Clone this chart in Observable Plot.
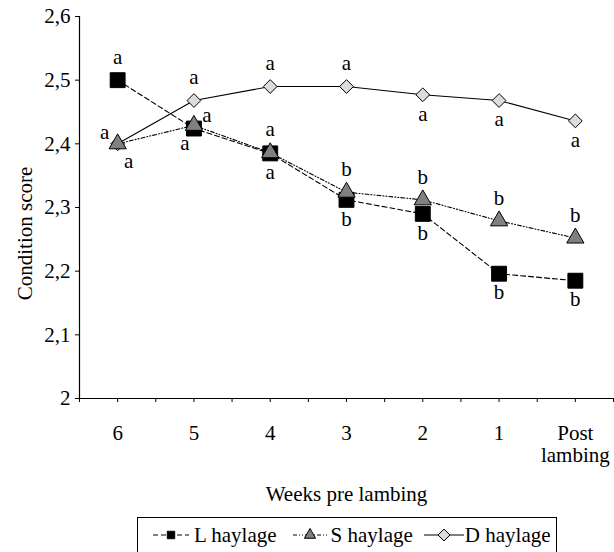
<!DOCTYPE html>
<html><head><meta charset="utf-8">
<script src="https://cdn.jsdelivr.net/npm/d3@7"></script>
<script src="https://cdn.jsdelivr.net/npm/@observablehq/plot@0.6"></script>
<style>
body{margin:0;background:#fff;font-family:"Liberation Serif",serif;overflow:hidden;}
#chart svg{display:block;}
#legend{position:absolute;left:137px;top:517px;width:420px;height:42px;border:1px solid #000;box-sizing:border-box;
  display:flex;align-items:center;padding-left:14px;padding-bottom:6px;font-size:21px;font-family:"Liberation Serif",serif;color:#000;white-space:nowrap;}
#legend .item{display:flex;align-items:center;}
#legend svg{display:block;}
</style></head><body>
<div id="chart"></div>
<div id="legend"></div>
<script>
// ---- data ----
const weeks = ["6", "5", "4", "3", "2", "1", "Post\nlambing"];
const lHaylage = [2.500, 2.424, 2.385, 2.312, 2.290, 2.196, 2.185];
const sHaylage = [2.400, 2.429, 2.386, 2.324, 2.312, 2.279, 2.252];
const dHaylage = [2.400, 2.468, 2.490, 2.490, 2.477, 2.468, 2.436];
const lLetters = ["a", "a", "a", "b", "b", "b", "b"];
const sLetters = ["a", "a", "a", "b", "b", "b", "b"];
const dLetters = ["a", "a", "a", "a", "a", "a", "a"];
const lSide = ["above", "belowLeft", "below", "below", "below", "below", "below"];
const sSide = ["belowRight", "right", "above", "above", "above", "above", "above"];
const dSide = ["left", "above", "above", "above", "below", "below", "below"];
const seriesNames = ["L haylage", "S haylage", "D haylage"];
const yTicks = [2, 2.1, 2.2, 2.3, 2.4, 2.5, 2.6];

// ---- build ----
const FS = 21;
const rows = weeks.map((w, i) => ({i, w, L: lHaylage[i], S: sHaylage[i], D: dHaylage[i]}));
const offsets = {
  above: [0, -23], below: [0, 19], left: [-13, -12], right: [13, -10],
  belowRight: [11, 17], belowLeft: [-9, 15]
};
const labelRows = (vals, letters, sides) => vals.map((v, i) => ({i, v, t: letters[i], s: sides[i]}));
const labelMarks = (data) => Object.entries(offsets).map(([k, [dx, dy]]) =>
  Plot.text(data.filter(d => d.s === k), {x: "i", y: "v", text: "t", dx, dy, fontSize: FS, fill: "black"}));

const style = {
  L: {symbol: "square", r: 8.4, fill: "black", dash: "5,3"},
  S: {symbol: "triangle", r: 6.4, fill: "#808080", dash: "4,2,1,2,1,2"},
  D: {symbol: "diamond2", r: 6.2, fill: "#dcdcdc", dash: null}
};

const xTicks = d3.range(-0.5, 6.51, 0.5);
const fmtY = d => String(+d.toFixed(1)).replace(".", ",");

const chart = Plot.plot({
  width: 614, height: 510,
  marginLeft: 79, marginRight: 1, marginTop: 16, marginBottom: 112,
  style: {fontFamily: "Liberation Serif, serif", fontSize: FS + "px", color: "black", background: "white"},
  x: {type: "linear", domain: [-0.5, 6.5]},
  y: {domain: [2, 2.6]},
  marks: [
    Plot.axisX({ticks: xTicks, tickSize: 4, tickPadding: 22, fontSize: FS, lineHeight: 1.05,
      tickFormat: d => Number.isInteger(d) ? weeks[d] : "",
      label: "Weeks pre lambing", labelAnchor: "center", labelOffset: 102, labelArrow: "none"}),
    Plot.axisY({ticks: yTicks, tickSize: 4, tickPadding: 5, tickFormat: fmtY, fontSize: FS,
      label: "Condition score", labelAnchor: "center", labelOffset: 62, labelArrow: "none"}),
    Plot.ruleY([2], {stroke: "black", strokeWidth: 1.2}),
    Plot.ruleX([-0.5], {stroke: "black", strokeWidth: 1.2}),
    ...["D", "L", "S"].map(k => Plot.line(rows, {x: "i", y: k, stroke: "black", strokeWidth: 1.1, strokeDasharray: style[k].dash})),
    ...["D", "L", "S"].map(k => Plot.dot(rows, {x: "i", y: k, symbol: () => style[k].symbol, r: style[k].r,
      fill: style[k].fill, stroke: "black", strokeWidth: 1})),
    ...labelMarks(labelRows(lHaylage, lLetters, lSide)),
    ...labelMarks(labelRows(sHaylage, sLetters, sSide)),
    ...labelMarks(labelRows(dHaylage, dLetters, dSide))
  ]
});
document.getElementById("chart").append(chart);
// shift y-axis label slightly down as in the reference
const yl = chart.querySelector('g[aria-label="y-axis label"]');
if (yl) yl.setAttribute("transform", "translate(0,26) " + (yl.getAttribute("transform") || ""));

// ---- legend ----
const legend = d3.select("#legend");
const iconW = {L: 38, S: 36, D: 42};
const gapAfterIcon = {L: 4, S: 3, D: 0};
const gapAfterItem = {L: 15, S: 10, D: 0};
["L", "S", "D"].forEach((k, j) => {
  const item = legend.append("div").attr("class", "item").style("margin-right", gapAfterItem[k] + "px");
  const w = iconW[k];
  const svg = item.append("svg").attr("width", w).attr("height", 16).style("margin-right", gapAfterIcon[k] + "px");
  svg.append("line").attr("x1", 1).attr("x2", w - 1).attr("y1", 8).attr("y2", 8)
    .attr("stroke", "black").attr("stroke-width", 1).attr("stroke-dasharray", style[k].dash);
  const sym = {square: d3.symbolSquare, triangle: d3.symbolTriangle, diamond2: d3.symbolDiamond2}[style[k].symbol];
  svg.append("path").attr("d", d3.symbol(sym, k === "D" ? 90 : 55)()).attr("transform", `translate(${w / 2},8)`)
    .attr("fill", style[k].fill).attr("stroke", "black");
  item.append("span").text(seriesNames[j]);
});
</script></body></html>
